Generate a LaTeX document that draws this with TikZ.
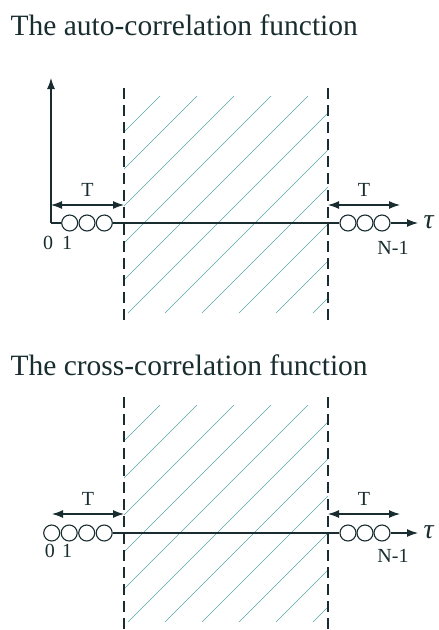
\documentclass[tikz,border=0pt]{standalone}
\usepackage{fontspec}
\setmainfont{Liberation Serif}
\usetikzlibrary{arrows.meta,positioning,shapes.geometric}
\definecolor{ink}{RGB}{25,45,48}
\definecolor{hatchc}{RGB}{90,165,170}

\begin{document}
\begin{tikzpicture}[x=1pt,y=-1pt,>={Latex[length=11pt,width=8pt]},
  color=ink,line width=1.1pt,
  ttl/.style={font=\fontsize{29.5}{35}\selectfont,anchor=base west,inner sep=0pt},
  lbl/.style={font=\fontsize{20}{22}\selectfont,inner sep=0pt},
  tau/.style={font=\fontsize{28}{30}\selectfont\itshape,inner sep=0pt,anchor=west},
  smp/.style={circle,draw,minimum size=16pt,inner sep=0pt},
  dsh/.style={dash pattern=on 11pt off 6pt,line width=1.2pt},
  hl/.style={hatchc,line width=0.6pt}]
  \useasboundingbox (0,0) rectangle (439,630);

  % auto-correlation
  \node[ttl] (t1) at (10,35) {The auto-correlation function};
  \coordinate (p1) at (124,88);  \coordinate (p2) at (124,323);
  \coordinate (q1) at (328,88);  \coordinate (q2) at (328,323);
  \begin{scope}
    \clip (124,96) rectangle (328,313);
    \foreach \k in {0,...,10}
      \draw[hl] ({256+37*\k-313},313) -- ++(300,-300);
  \end{scope}
  \draw[dsh] (p1) -- (p2);
  \draw[dsh] (q1) -- (q2);
  \coordinate (o) at (51,223);
  \coordinate (yt) at (51,78);
  \draw[->] (o) -- (yt);
  \foreach \i/\x in {1/69.7,2/87,3/104.3}
    \node[smp] (a\i) at (\x,223) {};
  \foreach \i/\x in {1/348,2/365,3/382}
    \node[smp] (b\i) at (\x,223) {};
  \coordinate (xe) at (418,223);
  \node[tau] (tau1) at (423,222) {τ};
  \draw (o) -- (a1); \draw (a3) -- (b1); \draw[->] (b3) -- (xe);
  \coordinate (l1) at (51,205);  \coordinate (l2) at (124,205);
  \coordinate (r1) at (328,205); \coordinate (r2) at (400,205);
  \draw[<->] (l1) -- (l2) node[lbl,midway,above=8pt] (tl) {T};
  \draw[<->] (r1) -- (r2) node[lbl,midway,above=8pt] (tr) {T};
  \node[lbl] (n0) at (48,243) {0};
  \node[lbl] (n1) at (67,243) {1};
  \node[lbl] (nn) at (393,248) {N-1};

  % cross-correlation
  \node[ttl] (t2) at (10,375) {The cross-correlation function};
  \begin{scope}[shift={(0,309)}]
    \coordinate (pp1) at (124,88);  \coordinate (pp2) at (124,330);
    \coordinate (qq1) at (328,88);  \coordinate (qq2) at (328,330);
    \begin{scope}
      \clip (124,96) rectangle (328,313);
      \foreach \k in {0,...,10}
        \draw[hl] ({256+37*\k-313},313) -- ++(300,-300);
    \end{scope}
    \draw[dsh] (pp1) -- (pp2);
    \draw[dsh] (qq1) -- (qq2);
    \foreach \i/\x in {1/51.7,2/69.2,3/86.7,4/104.2}
      \node[smp] (c\i) at (\x,224) {};
    \foreach \i/\x in {1/348,2/365,3/382}
      \node[smp] (d\i) at (\x,224) {};
    \coordinate (xxe) at (418,224);
    \node[tau] (tau2) at (423,223) {τ};
    \draw (c4) -- (d1); \draw[->] (d3) -- (xxe);
    \coordinate (ll1) at (52,205);  \coordinate (ll2) at (124,205);
    \coordinate (rr1) at (328,205); \coordinate (rr2) at (400,205);
    \draw[<->] (ll1) -- (ll2) node[lbl,midway,above=8pt] (ttl) {T};
    \draw[<->] (rr1) -- (rr2) node[lbl,midway,above=8pt] (ttr) {T};
    \node[lbl] (m0) at (50,242) {0};
    \node[lbl] (m1) at (67,242) {1};
    \node[lbl] (mm) at (393,247) {N-1};
  \end{scope}
\end{tikzpicture}
\end{document}
